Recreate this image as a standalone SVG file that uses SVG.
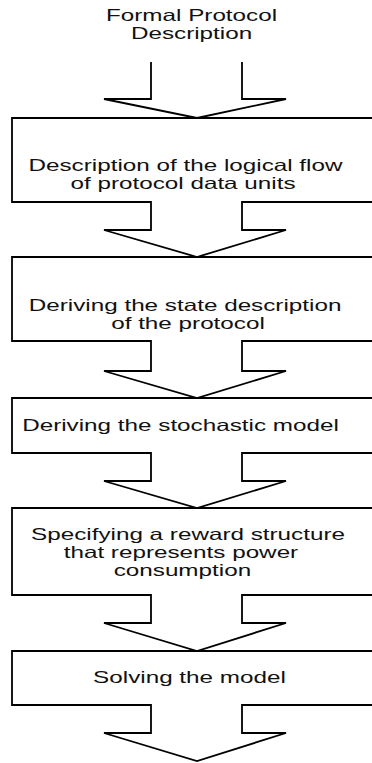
<svg xmlns="http://www.w3.org/2000/svg" width="372" height="763" viewBox="0 0 372 763">
<style>
.shape{fill:none;stroke:#000;stroke-width:1.8;stroke-linejoin:miter}
.t{font-family:"Liberation Sans",Arial,sans-serif;font-size:16.5px;fill:#111;text-anchor:middle}
</style>
<rect width="372" height="763" fill="#fff"/>
<g id="title">
<g transform="scale(1.47 1)">
<text class="t" x="130.3" y="21">Formal Protocol</text>
<text class="t" x="130.3" y="39">Description</text>
</g>
</g>
<g id="connectors">
<path class="shape" d="M151 62 L151 99 L104 99 L197 118 L286 99 L242 99 L242 62"/>
</g>
<g id="node1">
<path class="shape" d="M384 118 L12 118 L12 202 L151 202 L151 230 L104 230 L197 257 L286 230 L242 230 L242 202 L384 202"/>
<g transform="scale(1.47 1)">
<text class="t" x="126.2" y="171">Description of the logical flow</text>
<text class="t" x="124.5" y="189">of protocol data units</text>
</g>
</g>
<g id="node2">
<path class="shape" d="M384 257 L12 257 L12 341 L151 341 L151 371 L104 371 L197 398 L286 371 L242 371 L242 341 L384 341"/>
<g transform="scale(1.47 1)">
<text class="t" x="125.9" y="311">Deriving the state description</text>
<text class="t" x="127.9" y="329">of the protocol</text>
</g>
</g>
<g id="node3">
<path class="shape" d="M384 398 L12 398 L12 453 L151 453 L151 481 L104 481 L197 508 L286 481 L242 481 L242 453 L384 453"/>
<g transform="scale(1.47 1)">
<text class="t" x="122.8" y="431">Deriving the stochastic model</text>
</g>
</g>
<g id="node4">
<path class="shape" d="M384 508 L12 508 L12 595 L151 595 L151 623 L104 623 L197 651 L286 623 L242 623 L242 595 L384 595"/>
<g transform="scale(1.47 1)">
<text class="t" x="127.9" y="540">Specifying a reward structure</text>
<text class="t" x="123.1" y="558">that represents power</text>
<text class="t" x="124.1" y="576">consumption</text>
</g>
</g>
<g id="node5">
<path class="shape" d="M384 651 L12 651 L12 705 L151 705 L151 733 L104 733 L197 761 L286 733 L242 733 L242 705 L384 705"/>
<g transform="scale(1.47 1)">
<text class="t" x="128.9" y="683">Solving the model</text>
</g>
</g>
</svg>
